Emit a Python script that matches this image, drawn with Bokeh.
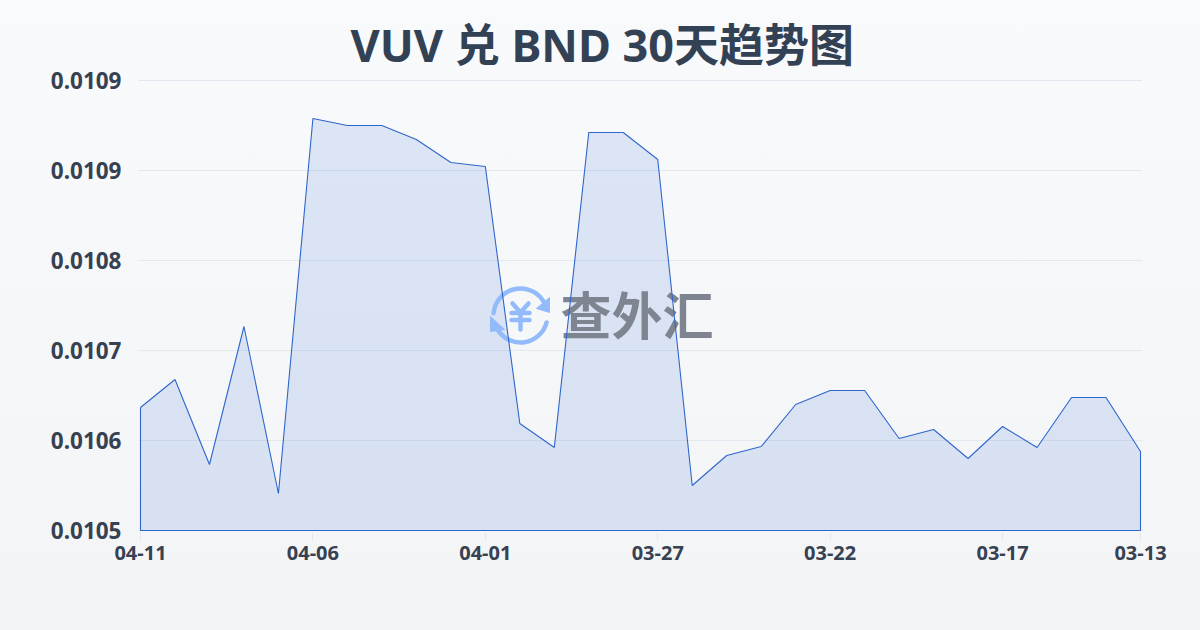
from bokeh.plotting import figure
from bokeh.embed import file_html
from bokeh.resources import INLINE
from bokeh.models import FixedTicker
from bokeh.core.properties import value
import numpy as np

title = "VUV 兑 BND 30天趋势图"
values = [0.010623, 0.010651, 0.010566, 0.010704, 0.010537, 0.010912, 0.010905, 0.010905,
          0.010891, 0.010868, 0.010864, 0.010607, 0.010583, 0.010898, 0.010898, 0.010871,
          0.010545, 0.010575, 0.010584, 0.010626, 0.010640, 0.010640, 0.010592, 0.010601,
          0.010572, 0.010604, 0.010583, 0.010633, 0.010633, 0.010579]
x_ticks = [0, 5, 10, 15, 20, 25, 29]
x_labels = ["04-11", "04-06", "04-01", "03-27", "03-22", "03-17", "03-13"]
y_ticks = [0.0105, 0.01059, 0.01068, 0.01077, 0.01086, 0.01095]
y_labels = ["0.0105", "0.0106", "0.0107", "0.0108", "0.0109", "0.0109"]

# pixel box of the data area, and a frame 2px larger so edge strokes are not clipped
L, R, T, B = 140, 1140, 80, 530
PAD = 2
FONT = "Noto Sans, Noto Sans CJK SC, sans-serif"


def px(v):
    return (np.asarray(v, float) - L) / (R - L) * 29


def py(v):
    return y_ticks[0] + (B - np.asarray(v, float)) / (B - T) * (y_ticks[-1] - y_ticks[0])


p = figure(width=1200, height=630, output_backend="svg", toolbar_location=None,
           x_range=(float(px(L - PAD)), float(px(R + PAD))),
           y_range=(float(py(B + PAD)), float(py(T - PAD))),
           min_border_left=L - PAD, min_border_right=1200 - (R + PAD),
           min_border_top=T - PAD, min_border_bottom=630 - (B + PAD))
p.styles = {"position": "fixed", "left": "0", "top": "0",
            "background": "linear-gradient(180deg,#f8fafc 0%,#f3f4f6 100%)"}
p.background_fill_alpha = 0
p.border_fill_alpha = 0
p.outline_line_alpha = 0

p.title.text = title
p.title.text_font = FONT
p.title.text_font_size = "45px"
p.title.text_font_style = "bold"
p.title.text_color = "#334155"
p.title.align = "left"
p.title.offset = 212
p.title.standoff = 8

xs = list(range(len(values)))
closed_x = xs + [xs[-1], xs[0], xs[0]]
closed_y = values + [y_ticks[0], y_ticks[0], values[0]]

# area fill
p.patch(closed_x, closed_y, fill_color="#3b6fd4", fill_alpha=0.15, line_color=None)

# watermark
LOGO = "#93bbfb"
cx, cy, r = 520, 315, 27
scale = 29 / (R - L)
p.arc(px([cx]), py([cy]), radius=r * scale, start_angle=np.radians(32), end_angle=np.radians(175),
      line_color=LOGO, line_width=4.5, line_cap="round")
p.arc(px([cx]), py([cy]), radius=r * scale, start_angle=np.radians(212), end_angle=np.radians(345),
      line_color=LOGO, line_width=4.5, line_cap="round")
p.patch(px([549, 549, 536]), py([297, 312, 308]), fill_color=LOGO, line_color=LOGO, line_join="round")
p.patch(px([490, 490, 504]), py([316, 331, 329]), fill_color=LOGO, line_color=LOGO, line_join="round")
for lx, ly in [([512, 520, 528], [303, 312, 303]), ([520, 520], [312, 329]),
               ([511, 529], [312.5, 312.5]), ([511, 529], [319.5, 319.5])]:
    p.line(px(lx), py(ly), line_color=LOGO, line_width=4.5, line_cap="round", line_join="round")
p.text(px([636.5]), py([312.5]), text=["查外汇"], text_font=value("Noto Sans CJK SC"),
       text_font_size="51px", text_font_style="bold", text_color="#7f8590",
       text_align="center", text_baseline="middle")

# outline above the watermark
p.line(closed_x, closed_y, line_color="#2f66cc", line_width=1.1)

# axes
p.xaxis.ticker = FixedTicker(ticks=x_ticks)
p.xaxis.major_label_overrides = dict(zip(x_ticks, x_labels))
p.yaxis.ticker = FixedTicker(ticks=y_ticks)
p.yaxis.major_label_overrides = dict(zip(y_ticks, y_labels))
for ax in (p.xaxis[0], p.yaxis[0]):
    ax.axis_line_color = None
    ax.minor_tick_line_color = None
    ax.major_label_text_font = FONT
    ax.major_label_text_font_style = "bold"
    ax.major_label_text_color = "#374151"
p.xaxis.major_label_text_font_size = "20px"
p.yaxis.major_label_text_font_size = "22.5px"
p.xaxis.major_tick_line_color = "#e2e8f0"
p.xaxis.major_tick_in = 0
p.xaxis.major_tick_out = 8
p.xaxis.major_label_standoff = 5
p.yaxis.major_tick_line_color = None
p.yaxis.major_label_standoff = 11
p.xgrid.grid_line_color = None
p.ygrid.grid_line_color = "#e2e8f0"
p.ygrid.grid_line_width = 1

open("out.html", "w").write(file_html(p, INLINE))
